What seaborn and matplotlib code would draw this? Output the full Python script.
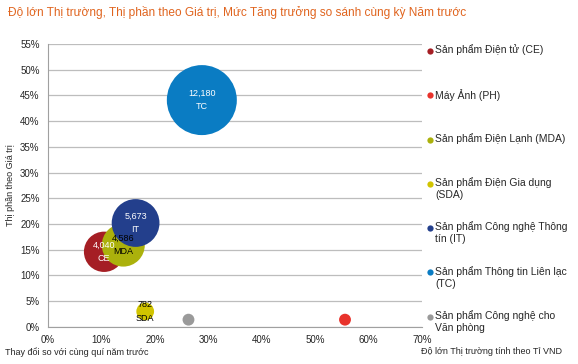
import pandas as pd
import matplotlib.pyplot as plt
import seaborn as sns
from matplotlib.ticker import PercentFormatter

# data
codes = ["CE", "PH", "MDA", "SDA", "IT", "TC", "OFF"]
names = ["Sản phẩm Điện tử (CE)", "Máy Ảnh (PH)", "Sản phẩm Điện Lạnh (MDA)",
         "Sản phẩm Điện Gia dụng\n(SDA)", "Sản phẩm Công nghệ Thông\ntín (IT)",
         "Sản phẩm Thông tin Liên lạc\n(TC)", "Sản phẩm Công nghệ cho\nVăn phòng"]
growth = [0.105, 0.556, 0.141, 0.182, 0.164, 0.288, 0.263]
share = [0.146, 0.014, 0.159, 0.030, 0.202, 0.441, 0.014]
market = [4040, 350, 4586, 782, 5673, 12180, 350]
colors = ["#A51E24", "#E8322B", "#ABB10C", "#D1C400", "#233F8C", "#0A7CC3", "#9A9A9A"]
label_colors = ["white", "white", "black", "black", "white", "white", "white"]
shown = [True, False, True, True, True, True, False]

df = pd.DataFrame({"code": codes, "name": names, "growth": growth,
                   "share": share, "market": market})

sns.set_style("white")
plt.rcParams["font.family"] = ["Liberation Sans", "DejaVu Sans"]

fig = plt.figure(figsize=(5.78, 3.64), dpi=100)
ax = fig.add_axes([0.083, 0.102, 0.647, 0.777])

sns.scatterplot(data=df, x="growth", y="share", hue="name", size="market",
                palette=dict(zip(names, colors)), sizes=(0, 2540),
                size_norm=(0, 12180), linewidth=0, alpha=1, ax=ax, legend=False)

for g, s, m, c, lc, sh in zip(growth, share, market, codes, label_colors, shown):
    if sh:
        ax.text(g, s, f"{m:,}\n{c}", color=lc, fontsize=6.5, ha="center",
                va="center", linespacing=1.6)

ax.set_xlim(0, 0.70)
ax.set_ylim(0, 0.55)
ax.set_xticks([i / 10 for i in range(8)])
ax.set_yticks([i / 20 for i in range(12)])
ax.xaxis.set_major_formatter(PercentFormatter(1, decimals=0))
ax.yaxis.set_major_formatter(PercentFormatter(1, decimals=0))
ax.tick_params(labelsize=7, length=0, pad=6)
ax.grid(axis="y", color="#BDBDBD", linewidth=0.9)
ax.set_axisbelow(True)
for side in ["top", "right"]:
    ax.spines[side].set_visible(False)
for side in ["left", "bottom"]:
    ax.spines[side].set_color("#A0A0A0")
ax.set_xlabel("")
ax.set_ylabel("Thị phần theo Giá trị", fontsize=6.5, labelpad=4)

# legend, one entry per row with even spacing (first line level with the dot)
for i, (name, col) in enumerate(zip(names, colors)):
    yy = 0.975 - i * 0.1565
    ax.plot([1.021], [yy], marker="o", markersize=4.5, color=col, markeredgewidth=0,
            transform=ax.transAxes, clip_on=False)
    ax.annotate(name, xy=(1.036, yy), xycoords="axes fraction", xytext=(0, 4.8),
                textcoords="offset points", fontsize=7.5, va="top", ha="left",
                linespacing=1.25, annotation_clip=False)

fig.text(0.014, 0.965, "Độ lớn Thị trường, Thị phần theo Giá trị, Mức Tăng trưởng so sánh cùng kỳ Năm trước",
         color="#E0641E", fontsize=8.6, va="center")
fig.text(0.009, 0.033, "Thay đổi so với cùng quí năm trước", fontsize=6.5, va="center")
fig.text(0.728, 0.033, "Độ lớn Thị trường tính theo Tỉ VND", fontsize=6.5, va="center")

fig.savefig("out.png", dpi=100)
